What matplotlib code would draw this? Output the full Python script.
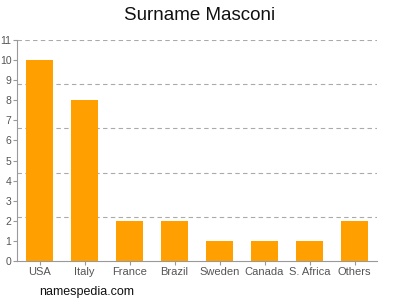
import matplotlib
matplotlib.use("Agg")
import matplotlib.pyplot as plt

countries = ["USA", "Italy", "France", "Brazil", "Sweden", "Canada", "S. Africa", "Others"]
counts = [10, 8, 2, 2, 1, 1, 1, 2]
y_ticks = list(range(0, 12))
grid_levels = [2.2, 4.4, 6.6, 8.8, 11]

plt.rcParams['font.family'] = ['Liberation Sans', 'DejaVu Sans']

fig = plt.figure(figsize=(4, 3), dpi=100)
ax = fig.add_axes((0.0425, 0.13, 0.9, 0.7367))

## Grid lines (dashed, at fifths of the range)
for lvl in grid_levels:
    ax.axhline(lvl, color='#aaaaaa', linestyle=(0, (4, 3)), linewidth=0.8, zorder=0)

## Bars
x = range(len(countries))
ax.bar(x, counts, width=0.62, color='#ffa000', zorder=2)

ax.set_xlim(-0.5, len(countries) - 0.5)
ax.set_ylim(0, 11)
ax.set_yticks(y_ticks)
ax.set_xticks(list(x))
ax.set_xticklabels(countries)

for side in ('top', 'right'):
    ax.spines[side].set_visible(False)
for side in ('left', 'bottom'):
    ax.spines[side].set_color('#999999')
    ax.spines[side].set_linewidth(0.8)
ax.tick_params(axis='both', colors='#999999', labelcolor='#555555',
               length=3, width=0.8, pad=1)
ax.tick_params(axis='y', labelsize=7.5)
ax.tick_params(axis='x', labelsize=8, pad=1.5)

fig.text(0.5, 0.95, "Surname Masconi", ha='center', va='center',
         fontsize=13.5, color='#111111')
fig.text(0.098, 0.025, "namespedia.com", ha='left', va='center',
         fontsize=9, color='#111111')

fig.savefig("out.png", dpi=100)
